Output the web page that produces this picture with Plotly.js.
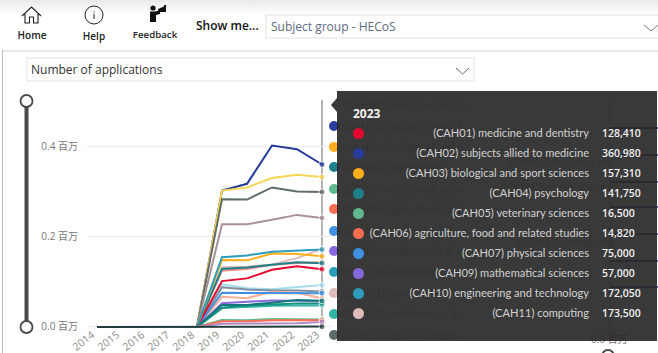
<!DOCTYPE html>
<html><head><meta charset="utf-8">
<script src="https://cdn.plot.ly/plotly-3.0.1.min.js"></script>
<style>
html,body{margin:0;padding:0;background:#fff;width:658px;height:353px;overflow:hidden;font-family:"Open Sans","Noto Sans",sans-serif}
.abs{position:absolute}
#plot{position:absolute;left:0;top:0;width:658px;height:353px}
.sel{position:absolute;background:#fff;border:2px solid #f0f0f0;box-sizing:border-box;white-space:nowrap}
.lab{position:absolute;font-size:10px;font-weight:600;color:#222;text-align:center}
.row{position:absolute;height:16px;line-height:16px;font-family:Lato,"Open Sans",sans-serif;font-size:11.100px;white-space:nowrap}
.gh{position:absolute;font-family:Lato,"Open Sans",sans-serif;font-size:11.100px;color:#bdbdbd;white-space:nowrap;line-height:16px}
</style></head><body>
<div id="plot"></div>
<div class="abs" style="left:0;top:0;width:658px;height:14px;background:linear-gradient(#e9e9e9,#fff)"></div>
<div class="abs" style="left:3px;top:50px;width:655px;height:2px;background:#e8e8e8"></div>
<div class="abs" style="left:2px;top:50px;width:1px;height:303px;background:#bdbdbd"></div>
<svg class="abs" style="left:0;top:0" width="200" height="32" viewBox="0 0 200 32">
 <path d="M22 16 L31.500 7 L41 16 M25 14 V23 H29.500 V17 H33.500 V23 H38 V14" fill="none" stroke="#222" stroke-width="1.100"/>
 <circle cx="94" cy="15" r="9" fill="none" stroke="#222" stroke-width="1"/>
 <path d="M94 11.500v.9M94 13.600v5.400" stroke="#222" stroke-width="1"/>
 <circle cx="153" cy="8" r="2.600" fill="#111"/>
 <path d="M150 11.500h5l5-1v3.500l-4 1v7h-6z" fill="#111"/>
 <path d="M158 9l7-3v6l-7 0z" fill="#111"/><rect x="164" y="5" width="2" height="7" fill="#111"/>
</svg>
<div class="lab" style="left:12px;top:28px;width:40px">Home</div>
<div class="lab" style="left:74px;top:29px;width:40px">Help</div>
<div class="lab" style="left:125px;top:28px;width:60px;font-size:9.700px">Feedback</div>
<div class="abs" style="left:196px;top:17px;font-size:12px;font-weight:600;color:#111">Show me...</div>
<div class="sel" style="left:265px;top:14px;width:395px;height:25px;padding-left:4px;line-height:21px;font-size:12px;color:#5d6b82">Subject group - HECoS</div>
<div class="sel" style="left:26px;top:57px;width:449px;height:25px;padding-left:3px;line-height:21px;font-size:12px;color:#333">Number of applications</div>
<svg class="abs" style="left:0;top:0;pointer-events:none" width="658" height="353">
 <path d="M644 25l7 6 7-6" fill="none" stroke="#777" stroke-width="1"/>
 <path d="M456 68l6.500 6 6.500-6" fill="none" stroke="#666" stroke-width="1"/>
 <line x1="26.500" y1="101" x2="26.500" y2="327" stroke="#4a4a4a" stroke-width="4"/>
 <circle cx="26.500" cy="101" r="6" fill="#fff" stroke="#4a4a4a" stroke-width="1.800"/>
 <circle cx="26.500" cy="327" r="6" fill="#fff" stroke="#4a4a4a" stroke-width="1.800"/>
 <circle cx="608" cy="356" r="6" fill="#fff" stroke="#4a4a4a" stroke-width="1.800"/>
 <line x1="610" y1="100" x2="610" y2="340" stroke="#bbb" stroke-width="1"/>
 <g stroke="#25399a" stroke-width="1.500"><line x1="610" y1="128" x2="658" y2="128"/><line x1="610" y1="155" x2="658" y2="155"/><line x1="610" y1="182" x2="658" y2="182"/><line x1="610" y1="207" x2="658" y2="207"/><line x1="610" y1="234" x2="658" y2="234"/><line x1="610" y1="261" x2="658" y2="261"/><line x1="610" y1="287" x2="658" y2="287"/></g>
</svg>
<div id="legend"></div>
<div class="abs" style="left:591px;top:332px;font-size:10px;line-height:14px;color:#777;font-family:'Open Sans','Noto Sans CJK SC'">0.0 百万</div>
<div id="tip" class="abs" style="left:337px;top:91px;width:320px;height:250px;background:rgba(36,36,36,.9)"></div>
<svg class="abs" style="left:331px;top:98px" width="6" height="14"><path d="M6 0L0 7 6 14z" fill="#3a3a3a"/></svg>
<div id="tiptext"></div>
<script>
const years = [2014,2015,2016,2017,2018,2019,2020,2021,2022,2023];
const yearLabels = ['2014','2015','2016','2017','2018','2019','2020','2021','2022','2023'];
const cah01 = [0,0,0,0,0,102000,108000,127000,135000,128410];
const cah02 = [0,0,0,0,0,303000,318000,403000,395000,360980];
const cah03 = [0,0,0,0,0,149000,148000,163000,162000,157310];
const cah04 = [0,0,0,0,0,129000,132000,138000,144000,141750];
const cah05 = [0,0,0,0,0,15500,15000,18000,18000,16500];
const cah06 = [0,0,0,0,0,12500,12500,15000,15500,14820];
const cah07 = [0,0,0,0,0,76000,76000,76000,76000,75000];
const cah09 = [0,0,0,0,0,53000,56000,59000,58000,57000];
const cah10 = [0,0,0,0,0,155000,159000,167000,169000,172050];
const cah11 = [0,0,0,0,0,133000,134000,139000,153000,173500];
const cah13 = [0,0,0,0,0,42000,45000,47000,48000,48000];
const cah15 = [0,0,0,0,0,284000,283000,310000,301000,300000];
const cah16 = [0,0,0,0,0,88000,83000,81000,81000,79000];
const cah17 = [0,0,0,0,0,303000,310000,331000,338000,333000];
const cah19 = [0,0,0,0,0,95000,86000,84000,88000,93000];
const cah20 = [0,0,0,0,0,67000,64000,78000,76000,64000];
const cah22 = [0,0,0,0,0,125000,129000,138000,142000,144000];
const cah23 = [0,0,0,0,0,49000,49000,54000,60000,58000];
const cah24 = [0,0,0,0,0,43000,48000,50000,52000,52000];
const cah25 = [0,0,0,0,0,228000,228000,238000,249000,242000];
const cah26 = [0,0,0,0,0,7000,7000,8000,8500,11000];
const cah35 = [0,0,0,0,0,500,500,600,600,800];

const drawn = [
 [cah02,'#25399a'],[cah17,'#f6d552'],[cah15,'#5f6b6b'],[cah25,'#a89092'],
 [cah19,'#a6dcec'],[cah16,'#7f8ea0'],[cah20,'#f9ad94'],[cah07,'#3f90e0'],
 [cah22,'#f48f8a'],[cah11,'#dfbcb9'],[cah04,'#1c7f8a'],[cah01,'#e6092f'],
 [cah03,'#fdae1a'],[cah10,'#2e9cbb'],[cah09,'#8568db'],[cah13,'#2fb6a6'],
 [cah24,'#18917f'],[cah23,'#117a78'],[cah05,'#5fb98d'],[cah06,'#fb6d51'],
 [cah26,'#b189c5'],[cah35,'#233c3c']
];
const traces = drawn.map(([v,c]) => ({
  x: years, y: v, type:'scatter', mode:'lines+markers',
  line:{color:c,width:2},
  marker:{color:c,size:years.map(y=>y===2023?6:0)},
  hoverinfo:'skip', cliponaxis:false
}));
const layout = {
  width:658,height:353,showlegend:false,
  paper_bgcolor:'rgba(0,0,0,0)',plot_bgcolor:'rgba(0,0,0,0)',
  margin:{l:87,r:326,t:92,b:23,pad:0},
  xaxis:{range:[2013.6,2023.4],tickmode:'array',tickvals:years,ticktext:yearLabels,tickangle:-38,
    showgrid:false,zeroline:false,showline:false,ticks:'',ticklabelstandoff:-4,ticklabelshift:-5,
    automargin:false,
    tickfont:{family:'Open Sans',size:10.500,color:'#8a8a8a'}},
  yaxis:{range:[-6700,522000],tickmode:'array',tickvals:[0,200000,400000],ticktext:['0.0 百万','0.2 百万','0.4 百万'],
    showgrid:true,gridcolor:'#ececec',gridwidth:1,zeroline:false,showline:false,ticks:'',ticklabelstandoff:8,
    automargin:false,
    tickfont:{family:'Open Sans, Noto Sans CJK SC',size:10,color:'#777'}},
  shapes:[{type:'line',xref:'x',yref:'y',x0:2023,x1:2023,y0:0,y1:505000,line:{color:'#9a9a9a',width:1.5},layer:'below'}]
};
Plotly.newPlot('plot',traces,layout,{displayModeBar:false,staticPlot:true});

const tipNames = ['(CAH01) medicine and dentistry','(CAH02) subjects allied to medicine','(CAH03) biological and sport sciences','(CAH04) psychology','(CAH05) veterinary sciences','(CAH06) agriculture, food and related studies','(CAH07) physical sciences','(CAH09) mathematical sciences','(CAH10) engineering and technology','(CAH11) computing'];
const tipSeries = [cah01,cah02,cah03,cah04,cah05,cah06,cah07,cah09,cah10,cah11];
const tipColors = ['#e6092f','#2a3d9e','#fdae1a','#1c7f8a','#5fb98d','#fb6d51','#3f90e0','#8568db','#2e9cbb','#dfbcb9'];
const legendNames = ['(CAH01) medicine and d...','(CAH02) subjects allied t...','(CAH03) biological and s...','(CAH04) psychology','(CAH05) veterinary scien...','(CAH06) agriculture, foo...','(CAH07) physical sciences','(CAH09) mathematical sc...','(CAH10) engineering a...','(CAH11) computing','(CAH13) architecture, bu...','(CAH15) social sciences'];
const legendColors = ['#3a3a3a','#2a3d9e','#fdae1a','#1c7f8a','#5fb98d','#fb6d51','#3f90e0','#8568db','#2e9cbb','#dfbcb9','#2fb6a6','#5f6b6b'];
const legendY = [105,126,147,167,189,209,231,251,272,293,314,335];
let lg='';
legendNames.forEach((n,i)=>{
  if(i>0) lg+=`<div class="abs" style="left:329px;top:${legendY[i]-5}px;width:10px;height:10px;border-radius:50%;background:${legendColors[i]}"></div>`;
  lg+=`<div class="gh" style="left:343px;top:${legendY[i]-8}px">${n}</div>`;
});
const rightNames = ['(CAH17) business an...','(CAH15) social sciences','(CAH11) computing'];
const rightY = [162,187,242];
const rightX = [508,503,518];
rightNames.forEach((n,i)=>{ lg+=`<div class="gh" style="left:${rightX[i]}px;top:${rightY[i]-8}px">${n}</div>`; });
document.getElementById('legend').innerHTML=lg;
let t=`<div class="row" style="left:353px;top:106px;color:#f2f2f2;font-weight:700;font-family:'Open Sans';font-size:12px">2023</div>`;
const rowY=[133,153,173,193,213,233,253,273,293,313];
tipNames.forEach((n,i)=>{
  const v=tipSeries[i][years.indexOf(2023)].toLocaleString('en-US');
  t+=`<div class="abs" style="left:353px;top:${rowY[i]-5}px;width:11px;height:11px;border-radius:50%;background:${tipColors[i]}"></div>`;
  t+=`<div class="row" style="left:289px;width:300px;text-align:right;top:${rowY[i]-8}px;color:#d2d2d2">${n}</div>`;
  t+=`<div class="row" style="left:602px;top:${rowY[i]-8}px;color:#f0f0f0;font-weight:600;font-family:'Open Sans';font-size:10.500px">${v}</div>`;
});
document.getElementById('tiptext').innerHTML=t;
</script>
</body></html>
